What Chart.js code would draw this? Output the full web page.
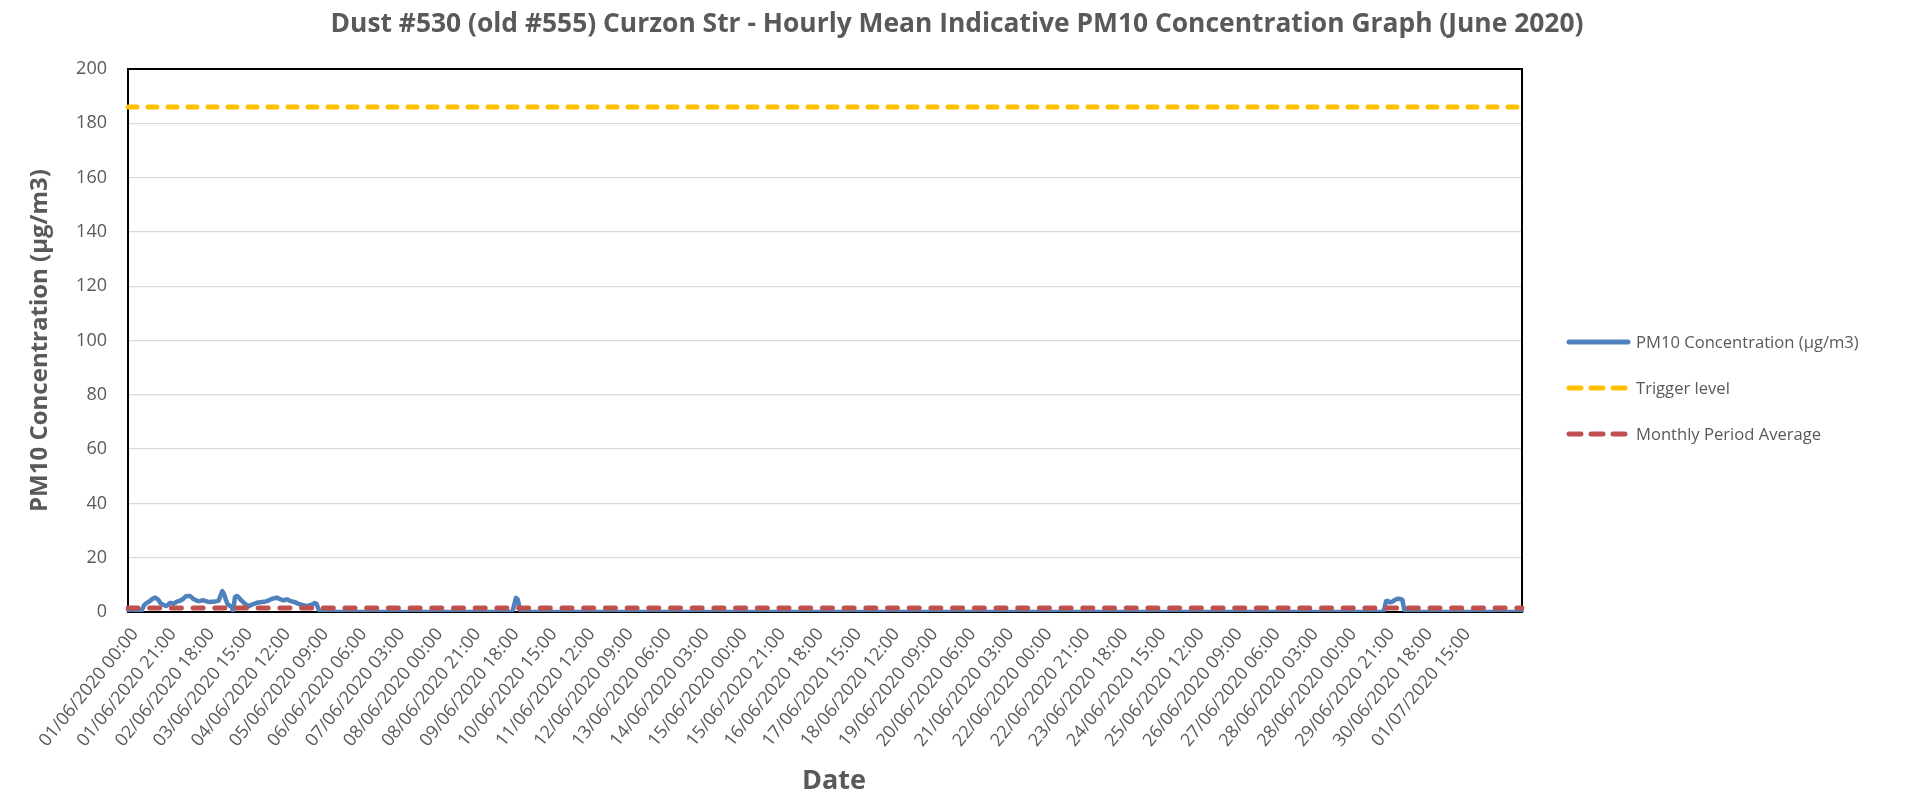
<!DOCTYPE html>
<html><head><meta charset="utf-8">
<script src="https://cdn.jsdelivr.net/npm/chart.js@4/dist/chart.umd.min.js"></script>
<style>html,body{margin:0;padding:0;background:#fff;overflow:hidden}#wrap{width:1913px;height:796px}</style>
</head><body><div id="wrap"><canvas id="c" width="1913" height="796"></canvas></div>
<script>
const chartTitle = "Dust #530 (old #555) Curzon Str - Hourly Mean Indicative PM10 Concentration Graph (June 2020)";
const seriesNames = ["PM10 Concentration (µg/m3)", "Trigger level", "Monthly Period Average"];
const yAxisTitle = "PM10 Concentration (µg/m3)";
const xAxisTitle = "Date";

// hourly categories (index of hourly row), labelled every 21 rows
const hourCount = 770;
const tickEvery = 21;
const tickLabels = ["01/06/2020 00:00","01/06/2020 21:00","02/06/2020 18:00","03/06/2020 15:00","04/06/2020 12:00","05/06/2020 09:00","06/06/2020 06:00","07/06/2020 03:00","08/06/2020 00:00","08/06/2020 21:00","09/06/2020 18:00","10/06/2020 15:00","11/06/2020 12:00","12/06/2020 09:00","13/06/2020 06:00","14/06/2020 03:00","15/06/2020 00:00","15/06/2020 21:00","16/06/2020 18:00","17/06/2020 15:00","18/06/2020 12:00","19/06/2020 09:00","20/06/2020 06:00","21/06/2020 03:00","22/06/2020 00:00","22/06/2020 21:00","23/06/2020 18:00","24/06/2020 15:00","25/06/2020 12:00","26/06/2020 09:00","27/06/2020 06:00","28/06/2020 03:00","28/06/2020 00:00","29/06/2020 21:00","30/06/2020 18:00","01/07/2020 15:00"];

// PM10 readings (µg/m3); all other hours read as 0
const week1Start = 0;
const week1Values = [0.8,0.8,0.9,0.9,0.8,0.6,0.5,0.1,1.2,2.6,
  3.2,3.6,4.0,4.6,5.0,5.3,4.9,4.3,3.2,2.8,
  2.5,2.2,2.6,3.3,3.3,3.0,3.4,3.8,4.0,4.3,
  4.6,5.2,5.8,5.9,5.9,5.5,4.8,4.5,4.2,4.0,
  4.1,4.3,4.2,4.0,3.8,3.7,3.8,3.8,3.9,4.0,
  4.2,6.0,7.7,6.6,4.5,2.8,2.4,2.0,0.4,5.5,
  5.9,5.5,4.6,4.0,3.3,2.8,2.4,2.2,2.6,2.9,
  3.1,3.4,3.5,3.6,3.7,3.8,3.9,4.1,4.4,4.7,
  5.0,5.1,5.3,5.0,4.7,4.4,4.3,4.6,4.6,4.2,
  4.0,3.8,3.7,3.3,3.0,2.8,2.6,2.4,2.2,2.2,
  2.4,2.6,2.9,3.3,3.0,1.2];
const spikeStart = 213;
const spikeValues = [2.5,5.2,4.6,1.5];
const lateStart = 693;
const lateValues = [1.0,4.0,4.1,3.6,3.7,4.0,4.5,4.8,4.9,4.8,4.5,1.0];

const triggerLevel = 186;
const monthlyAverage = 1.5;

const categories = [];
for (let i = 0; i < hourCount; i++) categories.push(i);
const pm10 = categories.map(() => 0);
[[week1Start, week1Values],[spikeStart, spikeValues],[lateStart, lateValues]].forEach(([s, vals]) => {
  vals.forEach((v, k) => { pm10[s + k] = v; });
});
const triggerData = categories.map(() => triggerLevel);
const averageData = categories.map(() => monthlyAverage);

const GREY = '#595959';
const BLUE = '#4F81BD', YELLOW = '#FFC000', RED = '#C0504D';
Chart.defaults.font.family = "'Open Sans', sans-serif";
Chart.defaults.color = GREY;

const PLOT = {left: 128, right: 1522, top: 69, bottom: 612};

const decor = {
  id: 'decor',
  beforeDatasetsDraw(chart) {
    const {ctx, chartArea: a} = chart;
    ctx.save();
    ctx.strokeStyle = '#000';
    ctx.lineWidth = 2;
    ctx.strokeRect(a.left, a.top, a.right - a.left, a.bottom - a.top);
    ctx.restore();
  },
  afterDraw(chart) {
    const {ctx} = chart;
    ctx.save();
    ctx.fillStyle = GREY;
    ctx.font = "bold 26.4px 'Open Sans'";
    ctx.textAlign = 'center';
    ctx.textBaseline = 'middle';
    ctx.fillText(chartTitle, 957, 24);
    ctx.font = "bold 27px 'Open Sans'";
    ctx.fillText(xAxisTitle, 834, 781);
    // legend
    const styles = [
      {color: BLUE, dash: []},
      {color: YELLOW, dash: [12, 10]},
      {color: RED, dash: [12, 10]}
    ];
    const ys = [342, 388, 434];
    ctx.font = "16.6px 'Open Sans'";
    ctx.textAlign = 'left';
    seriesNames.forEach((name, i) => {
      ctx.beginPath();
      ctx.strokeStyle = styles[i].color;
      ctx.lineWidth = 5;
      ctx.lineCap = 'round';
      ctx.setLineDash(styles[i].dash);
      ctx.moveTo(1569, ys[i]);
      ctx.lineTo(1628, ys[i]);
      ctx.stroke();
      ctx.setLineDash([]);
      ctx.fillStyle = GREY;
      ctx.fillText(name, 1636, ys[i] + 1);
    });
    ctx.restore();
  }
};

new Chart(document.getElementById('c'), {
  type: 'line',
  data: {
    labels: categories,
    datasets: [
      {label: seriesNames[0], data: pm10, borderColor: BLUE, borderWidth: 4.5, pointRadius: 0, tension: 0, order: 2, borderJoinStyle: 'round', borderCapStyle: 'round'},
      {label: seriesNames[1], data: triggerData, borderColor: YELLOW, borderWidth: 5, borderDash: [9, 11], borderCapStyle: 'round', pointRadius: 0, order: 1},
      {label: seriesNames[2], data: averageData, borderColor: RED, borderWidth: 5, borderDash: [10, 11.7], borderCapStyle: 'round', pointRadius: 0, order: 0}
    ]
  },
  options: {
    responsive: false,
    animation: false,
    events: [],
    layout: {padding: {left: 0, right: 1913 - PLOT.right, top: PLOT.top, bottom: 0}},
    plugins: {legend: {display: false}, title: {display: false}, tooltip: {enabled: false}},
    scales: {
      x: {
        type: 'category',
        offset: false,
        grid: {display: false, drawTicks: false},
        border: {display: false},
        afterFit(s) { s.height = 796 - PLOT.bottom; },
        ticks: {
          autoSkip: false, minRotation: 51, maxRotation: 51, padding: 12, labelOffset: 7,
          color: GREY, font: {size: 18},
          callback(v, i) { return i % tickEvery === 0 ? (tickLabels[i / tickEvery] || '') : ''; }
        },
        title: {display: false}
      },
      y: {
        min: 0, max: 200,
        grid: {color: '#D9D9D9', lineWidth: 1.3, drawTicks: false},
        border: {display: false},
        afterFit(s) { s.width = PLOT.left; },
        ticks: {stepSize: 20, padding: 21, color: GREY, font: {size: 18}},
        title: {display: true, text: yAxisTitle, color: GREY, font: {size: 24, weight: 'bold'}, padding: {top: 26, bottom: 0}}
      }
    }
  },
  plugins: [decor]
});
</script>
</body></html>
